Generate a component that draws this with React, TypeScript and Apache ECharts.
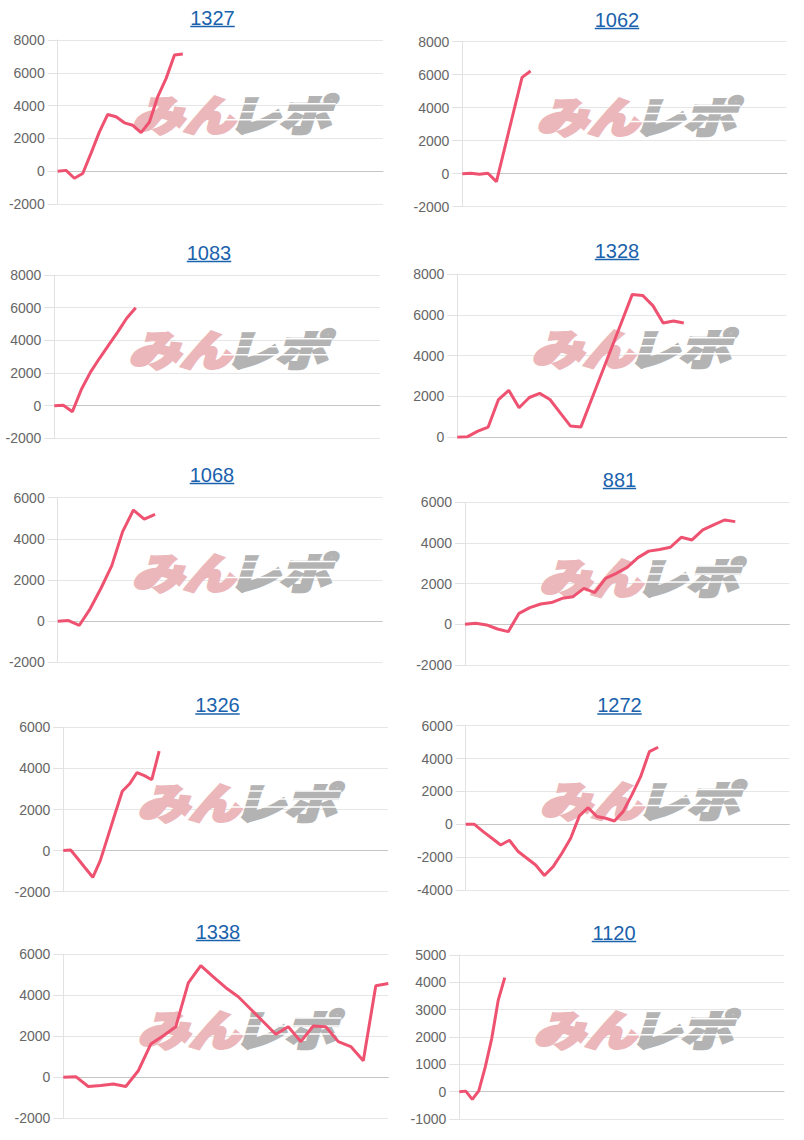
import React, { useEffect, useRef } from "react";
import * as echarts from "echarts";

// ---------- data ----------
const titles = ["1327", "1062", "1083", "1328", "1068", "881", "1326", "1272", "1338", "1120"];

// number of x slots on each panel's category axis
const slotCounts = [40, 39, 37, 33, 31, 31, 45, 38, 27, 51];

// y axis ranges / tick step per panel
const yMins = [-2000, -2000, -2000, 0, -2000, -2000, -2000, -4000, -2000, -1000];
const yMaxs = [8000, 8000, 8000, 8000, 6000, 6000, 6000, 6000, 6000, 5000];
const yIntervals = [2000, 2000, 2000, 2000, 2000, 2000, 2000, 2000, 2000, 1000];

const s1327 = [0, 50, -430, -140, 1100, 2400, 3460, 3320, 2950, 2800, 2350, 3000, 4550, 5660, 7080, 7140];
const s1062 = [0, 30, -40, 30, -480, 1630, 3740, 5840, 6220];
const s1083 = [0, 20, -370, 1000, 2050, 2900, 3700, 4500, 5350, 6000];
const s1328 = [0, 30, 300, 500, 1850, 2300, 1450, 1950, 2150, 1850, 1200, 550, 500, 1800, 3100, 4400, 5700, 7000, 6950, 6450, 5600, 5700, 5600];
const s1068 = [0, 30, -200, 600, 1600, 2700, 4350, 5400, 4960, 5190];
const s881 = [0, 50, -30, -230, -360, 540, 820, 1000, 1070, 1280, 1360, 1770, 1560, 2260, 2510, 2800, 3280, 3600, 3680, 3790, 4280, 4150, 4640, 4890, 5130, 5050];
const s1326 = [0, 30, -410, -860, -1300, -500, 630, 1770, 2890, 3250, 3800, 3650, 3450, 4840];
const s1272 = [0, 0, -450, -850, -1260, -970, -1660, -2070, -2480, -3120, -2580, -1760, -850, 510, 1010, 470, 370, 200, 770, 1790, 2900, 4420, 4690];
const s1338 = [0, 30, -450, -400, -330, -450, 320, 1620, 2030, 2470, 4610, 5450, 4900, 4370, 3930, 3320, 2710, 2100, 2470, 1740, 2500, 2470, 1740, 1500, 810, 4470, 4580];
const s1120 = [0, 20, -280, 30, 910, 1950, 3350, 4170];

const seriesValues = [s1327, s1062, s1083, s1328, s1068, s881, s1326, s1272, s1338, s1120];

// ---------- layout (px) ----------
const plotLeft = [57.7, 462.3, 54.3, 457.3, 57.7, 465, 63.3, 465.7, 63.3, 459.3];
const plotRight = [383, 786.7, 380, 786.7, 382.3, 789.3, 387.7, 789.3, 388.3, 784];
const plotTop = [40, 41.7, 275, 274, 497.7, 502.3, 727.3, 725.7, 954.3, 955];
const plotBottom = [204, 206.7, 438.3, 437.3, 662.3, 665, 891.7, 890, 1118.3, 1119];
const titleX = [212.5, 617, 209, 617, 212, 619.5, 217.5, 619.5, 218, 614];
const titleY = [17.5, 19.5, 252.5, 250.5, 474.5, 479.5, 705, 705, 931.5, 932.5];

const LINE_COLOR = "#ee5270";
const TITLE_COLOR = "#1a62ac";
const PINK = "#ebb7ba";
const GRAY = "#b3b3b3";
const LATIN = "'Liberation Sans', Arial, Helvetica, sans-serif";
const CJK = "'Noto Sans CJK JP', 'Noto Sans', sans-serif";

export default function App() {
  const ref = useRef<HTMLDivElement>(null);

  useEffect(() => {
    if (!ref.current) return;
    const chart = echarts.init(ref.current, null, { renderer: "svg" });

    const grid: any[] = [];
    const xAxis: any[] = [];
    const yAxis: any[] = [];
    const series: any[] = [];
    const graphic: any[] = [];

    titles.forEach((title, i) => {
      const L = plotLeft[i];
      const T = plotTop[i];
      const W = plotRight[i] - L;
      const H = plotBottom[i] - T;
      grid.push({ left: L, top: T, width: W, height: H, containLabel: false });

      const cats = Array.from({ length: slotCounts[i] }, (_, k) => String(k + 1));
      xAxis.push({
        type: "category",
        gridIndex: i,
        data: cats,
        boundaryGap: false,
        axisLine: { show: true, onZero: true, lineStyle: { color: "#c6c6c6", width: 1 } },
        axisTick: { show: false },
        axisLabel: { show: false },
        splitLine: { show: false },
      });
      yAxis.push({
        type: "value",
        gridIndex: i,
        min: yMins[i],
        max: yMaxs[i],
        interval: yIntervals[i],
        axisLine: { show: true, lineStyle: { color: "#e2e2e2", width: 1 } },
        axisTick: { show: true, length: 10, lineStyle: { color: "#e2e2e2" } },
        axisLabel: {
          margin: 13,
          color: "#666666",
          fontSize: 14,
          fontFamily: LATIN,
          formatter: (v: number) => String(v),
        },
        splitLine: { show: true, lineStyle: { color: "#e6e6e6", width: 1 } },
      });
      series.push({
        type: "line",
        name: title,
        xAxisIndex: i,
        yAxisIndex: i,
        data: seriesValues[i],
        symbol: "none",
        showSymbol: false,
        smooth: false,
        z: 5,
        lineStyle: { color: LINE_COLOR, width: 3 },
        itemStyle: { color: LINE_COLOR },
      });

      // title + underline
      const tw = title.length * 0.556 * 20;
      graphic.push({
        type: "text",
        x: titleX[i],
        y: titleY[i],
        z: 10,
        style: {
          text: title,
          fontSize: 20,
          fontFamily: LATIN,
          fill: TITLE_COLOR,
          align: "center",
          verticalAlign: "middle",
          textAlign: "center",
          textVerticalAlign: "middle",
        },
      });
      graphic.push({
        type: "line",
        z: 10,
        shape: { x1: titleX[i] - tw / 2, y1: titleY[i] + 9, x2: titleX[i] + tw / 2, y2: titleY[i] + 9 },
        style: { stroke: TITLE_COLOR, lineWidth: 1.3 },
      });

      // watermark "みんレポ"
      graphic.push({
        type: "text",
        x: L + 74,
        y: T + 73,
        scaleX: 1.22,
        z: 1,
        silent: true,
        style: {
          text: "みん",
          fontSize: 42,
          fontWeight: 900,
          fontStyle: "italic",
          fontFamily: CJK,
          fill: PINK,
          stroke: PINK,
          lineWidth: 3,
          lineJoin: "round",
          align: "left",
          verticalAlign: "middle",
          textAlign: "left",
          textVerticalAlign: "middle",
        },
      });
      graphic.push({
        type: "text",
        x: L + 170,
        y: T + 73,
        scaleX: 1.22,
        z: 1,
        silent: true,
        style: {
          text: "レポ",
          fontSize: 42,
          fontWeight: 900,
          fontStyle: "italic",
          fontFamily: CJK,
          fill: GRAY,
          stroke: GRAY,
          lineWidth: 3,
          lineJoin: "round",
          align: "left",
          verticalAlign: "middle",
          textAlign: "left",
          textVerticalAlign: "middle",
        },
      });
      // speed lines across the gray part
      [63, 71, 79].forEach((dy) => {
        graphic.push({
          type: "rect",
          z: 2,
          silent: true,
          shape: { x: L + 168, y: T + dy, width: 110, height: 1.5 },
          style: { fill: "#ffffff" },
        });
      });
    });

    chart.setOption({
      animation: false,
      grid,
      xAxis,
      yAxis,
      series,
      graphic: { elements: graphic },
    });

    return () => chart.dispose();
  }, []);

  return (
    <div
      ref={ref}
      style={{ position: "absolute", left: 0, top: 0, width: 804, height: 1140, background: "#ffffff" }}
    />
  );
}
